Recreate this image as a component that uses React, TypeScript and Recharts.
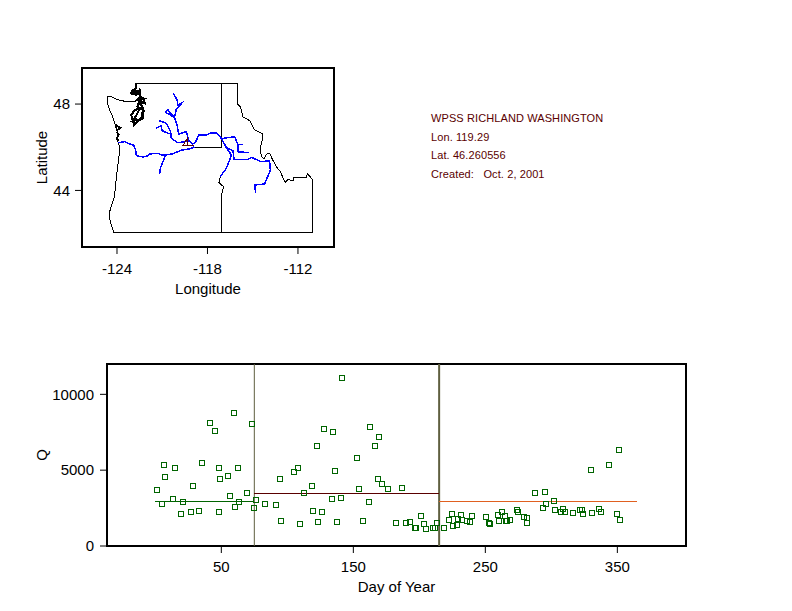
import React from 'react';
import { ScatterChart, Scatter, XAxis, YAxis, ReferenceArea, ReferenceLine } from 'recharts';

type Pair = [number, number];

// map outlines, [lon, lat]
const stateOutline: Pair[] = [
  [-122.72, 48.96], [-116.02, 48.96], [-116.02, 48.0], [-115.82, 47.88], [-115.65, 47.41], [-115.2, 47.23],
  [-115.05, 47.03], [-114.87, 46.8], [-114.65, 46.72], [-114.32, 46.61], [-114.39, 46.26], [-114.5, 45.95],
  [-114.43, 45.56], [-114.25, 45.48], [-114.1, 45.67], [-113.88, 45.72], [-113.72, 45.48], [-113.44, 45.1],
  [-113.15, 44.87], [-112.99, 44.56], [-112.82, 44.37], [-112.66, 44.51], [-112.33, 44.45], [-112.26, 44.61],
  [-111.45, 44.59], [-111.38, 44.77], [-111.2, 44.64], [-111.01, 44.48], [-111.01, 42.06], [-124.2, 42.06],
  [-124.42, 42.48], [-124.53, 42.91], [-124.42, 43.17], [-124.2, 43.63], [-124.11, 44.1], [-124.04, 44.64],
  [-123.93, 45.25], [-123.82, 45.87], [-123.88, 46.18], [-124.0, 46.33], [-123.98, 46.72], [-124.15, 47.11],
  [-124.33, 47.49], [-124.49, 47.72], [-124.66, 48.11], [-124.64, 48.34], [-124.38, 48.34], [-124.04, 48.22],
  [-123.71, 48.15], [-123.05, 48.11], [-122.72, 48.11],
];
const waIdBorder: Pair[] = [[-117.04, 48.96], [-117.04, 45.99]];
const waOrBorder: Pair[] = [[-118.96, 45.99], [-117.04, 45.99]];
const orIdBorder: Pair[] = [[-117.15, 44.64], [-117.24, 44.36], [-116.93, 44.17], [-117.04, 43.86], [-117.04, 42.06]];
const pugetSound: Pair[] = [
  [-122.72, 48.96], [-122.72, 48.73], [-123.01, 48.62], [-123.05, 48.49], [-122.72, 48.42], [-122.5, 48.65],
  [-122.43, 48.34], [-122.65, 48.19], [-122.28, 48.26], [-122.17, 48.03], [-122.56, 48.06], [-122.65, 47.88],
  [-122.28, 47.72], [-122.39, 47.34], [-122.72, 47.23], [-123.01, 47.29], [-123.05, 47.49], [-122.83, 47.72],
  [-122.5, 47.8], [-122.65, 47.57], [-122.83, 47.34], [-122.87, 47.03], [-122.72, 47.11], [-122.56, 47.23],
  [-122.28, 47.34], [-122.23, 47.72], [-122.39, 47.95],
];
const sanJuans: Pair[] = [[-123.0, 48.62], [-122.6, 48.6], [-122.95, 48.5], [-122.55, 48.45]];
const whidbey: Pair[] = [[-122.6, 48.3], [-122.2, 48.25], [-122.55, 48.15], [-122.2, 48.05], [-122.6, 47.98]];
const southSound: Pair[] = [[-123.02, 47.35], [-122.75, 47.3], [-122.98, 47.2], [-122.75, 47.12], [-122.9, 47.05]];
const willapa: Pair[] = [[-124.02, 46.72], [-123.89, 46.57], [-124.02, 46.41], [-123.89, 46.29]];
const graysHarbor: Pair[] = [[-124.11, 47.03], [-123.76, 46.9], [-124.04, 46.77]];

const lowerColumbia: Pair[] = [
  [-123.93, 46.21], [-123.49, 46.26], [-123.16, 46.15], [-122.9, 46.1], [-122.76, 45.87], [-122.72, 45.61],
  [-122.28, 45.55], [-121.99, 45.59], [-121.83, 45.69], [-121.28, 45.72], [-121.02, 45.64], [-120.8, 45.64],
  [-120.29, 45.7], [-119.73, 45.86], [-119.18, 45.93], [-118.89, 45.99], [-119.03, 46.18], [-119.18, 46.26],
];
const upperRiver: Pair[] = [
  [-119.03, 46.18], [-118.85, 46.18], [-118.72, 46.33], [-118.59, 46.56], [-118.08, 46.56], [-117.75, 46.67],
  [-117.41, 46.67], [-117.08, 46.41], [-116.97, 46.41], [-116.2, 46.49], [-115.98, 46.13], [-115.98, 45.79],
  [-115.27, 45.75],
];
const upperBranch: Pair[] = [[-115.98, 46.13], [-115.65, 46.13]];
const snake: Pair[] = [
  [-117.08, 46.41], [-116.75, 45.99], [-116.64, 45.95], [-116.31, 45.84], [-116.24, 45.44], [-115.31, 45.44],
  [-115.09, 45.53], [-114.43, 45.33], [-113.88, 45.38], [-113.83, 44.94], [-114.21, 44.3], [-114.87, 44.25],
  [-114.81, 43.9],
];
const hellsCanyon: Pair[] = [[-116.75, 45.99], [-116.42, 45.64], [-116.53, 45.41], [-116.75, 45.02], [-117.15, 44.64]];
const deschutes: Pair[] = [[-120.8, 45.64], [-120.95, 45.33], [-121.13, 45.02], [-121.17, 44.74]];
const yakimaA: Pair[] = [
  [-120.27, 48.52], [-120.02, 48.19], [-119.96, 47.95], [-119.69, 48.06], [-119.78, 47.95], [-120.07, 47.75],
  [-120.18, 47.41], [-120.51, 47.6], [-120.62, 47.75], [-120.77, 47.61], [-120.18, 47.38], [-120.02, 47.03],
  [-119.91, 46.61], [-119.4, 46.72], [-119.25, 46.33], [-119.18, 46.26],
];
const yakimaB: Pair[] = [
  [-121.22, 47.23], [-120.73, 47.11], [-120.44, 46.72], [-120.4, 46.41], [-119.96, 46.21], [-119.47, 46.26],
  [-119.18, 46.26],
];
const yakimaC: Pair[] = [[-121.44, 46.87], [-121.06, 47.0], [-121.02, 46.77], [-120.51, 46.61]];
const siteMarker: Pair[] = [[-118.92, 46.09], [-119.62, 46.09], [-119.34, 46.41], [-119.34, 46.09]];

const borders = [stateOutline, waIdBorder, waOrBorder, orIdBorder];
const estuaries = [pugetSound, sanJuans, whidbey, southSound, willapa, graysHarbor];
const rivers = [lowerColumbia, upperRiver, upperBranch, snake, hellsCanyon, deschutes, yakimaA, yakimaB, yakimaC];

const lonTicks = [-124, -118, -112];
const latTicks = [44, 48];
const dayTicks = [50, 150, 250, 350];
const qTicks = [0, 5000, 10000];

// [day of year, Q]
const flows: Pair[] = [
  [1.5, 3690], [5.3, 2788], [6.6, 5338], [7.6, 4525], [13.4, 3097], [14.7, 5120], [19.5, 2109], [20.8, 2919],
  [21, 2880], [27.3, 2240], [28.6, 3954], [33.3, 2287], [35.6, 5490], [41.4, 8106], [45.5, 7560], [48.5, 5120],
  [48.5, 2240], [49.3, 4395], [55.3, 4613], [56.6, 3295], [59.6, 8765], [60.6, 2550], [62.6, 5120], [63.6, 2900],
  [69.5, 3473], [73.5, 8020], [74.8, 2504], [76.5, 3031], [83.3, 2748], [91.7, 2682], [94.7, 4415], [95.5, 1648],
  [105.3, 4857], [108.3, 5140], [109.6, 1450], [112.7, 3473], [118.5, 3934], [119.7, 2306], [122.7, 6590],
  [123.5, 1582], [126.5, 2220], [127.8, 7690], [133.9, 3097], [134.8, 7493], [136.4, 4942], [137.9, 1582],
  [140.7, 3163], [141.7, 11051], [152.6, 5780], [154.5, 3736], [157.6, 1628], [161.9, 2900], [162.9, 7822],
  [166.7, 6570], [169, 4395], [169.7, 7163], [171.7, 4086], [176.5, 3776], [182.6, 1516], [186.9, 3802],
  [189.7, 1496], [193, 1582], [197, 1206], [197.7, 1166], [201.5, 1957], [203.8, 1430], [205, 1120], [210.6, 1206],
  [211.9, 1166], [213.6, 1535], [218.7, 1186], [222.7, 1713], [225, 2109], [225.8, 1318], [228.3, 1384], [229, 1760],
  [231.8, 2063], [232.6, 1713], [235.9, 1648], [238.6, 1562], [240, 1957], [250.8, 1891], [253, 1496], [253.8, 1450],
  [259.8, 2023], [260.6, 1648], [262.9, 2220], [264.9, 1957], [265.9, 1648], [266.7, 1648], [268.5, 1694],
  [273.8, 2353], [275, 2220], [279.5, 1891], [281.4, 1865], [281.8, 1516], [287.9, 3473], [293.9, 2504], [295.2, 3539],
  [296, 2768], [302, 2966], [303, 2353], [307.6, 2240], [309, 2438], [310.1, 2240], [316.7, 2155], [322, 2372],
  [323.5, 2372], [324, 2089], [330.1, 5008], [331, 2155], [336.1, 2458], [337.9, 2220], [344, 5318], [350, 2109],
  [351.3, 6307], [352, 1713],
];
const medianWinter: Pair[] = [[0, 2946], [75, 2946]];
const medianSummer: Pair[] = [[75, 3473], [215, 3473]];
const medianFall: Pair[] = [[215, 2946], [365, 2946]];

const infoLines = ['WPSS RICHLAND WASHINGTON', 'Lon. 119.29', 'Lat. 46.260556', 'Created:   Oct. 2, 2001'];

const FONT = '"Liberation Sans", Arial, sans-serif';
const axisText = { fontSize: 15, fontFamily: FONT, fill: '#000' };
const titleText = { ...axisText, textAnchor: 'middle' as const };
const tickLine = { stroke: '#000', strokeWidth: 1 };

const toMap = (line: Pair[]) => line.map(([lon, lat]) => ({ lon, lat }));
const toFlow = (line: Pair[]) => line.map(([day, q]) => ({ day, q }));
const NoDot = () => <g />;

const Square = ({ cx, cy }: any) => (
  <rect
    x={Math.round(cx) - 2.5}
    y={Math.round(cy) - 2.5}
    width={5}
    height={5}
    fill="none"
    stroke="#006400"
    strokeWidth={1}
    shapeRendering="crispEdges"
  />
);

function lineSeries(data: object[], key: string, color: string, width: number) {
  return (
    <Scatter
      key={key}
      data={data}
      line={{ stroke: color, strokeWidth: width, shapeRendering: 'crispEdges' }}
      lineType="joint"
      shape={NoDot}
      isAnimationActive={false}
    />
  );
}

export default function App() {
  return (
    <div style={{ position: 'absolute', left: 0, top: 0, width: 792, height: 611, background: '#fff', overflow: 'hidden' }}>
      <div style={{ position: 'absolute', left: 0, top: 0 }}>
        <ScatterChart width={792} height={300} margin={{ left: 42, right: 458, top: 68, bottom: 8 }}>
          <XAxis
            type="number"
            dataKey="lon"
            domain={[-126.32, -109.61]}
            ticks={lonTicks}
            allowDataOverflow
            height={45}
            tickSize={7}
            tickMargin={9}
            axisLine={false}
            tickLine={tickLine}
            tick={axisText}
            label={{ value: 'Longitude', position: 'insideBottom', offset: -2, style: axisText }}
          />
          <YAxis
            type="number"
            dataKey="lat"
            domain={[41.38, 49.67]}
            ticks={latTicks}
            allowDataOverflow
            width={40}
            tickSize={7}
            tickMargin={5}
            axisLine={false}
            tickLine={tickLine}
            tick={axisText}
            label={{ value: 'Latitude', angle: -90, position: 'insideLeft', offset: 0, style: titleText }}
          />
          <ReferenceArea x1={-126.32} x2={-109.61} y1={41.38} y2={49.67} fill="none" stroke="#000" strokeWidth={2} />
          {borders.map((line, i) => lineSeries(toMap(line), `border-${i}`, '#000', 1))}
          {estuaries.map((line, i) => lineSeries(toMap(line), `estuary-${i}`, '#000', 2))}
          {rivers.map((line, i) => lineSeries(toMap(line), `river-${i}`, '#0000ff', 1.5))}
          {lineSeries(toMap(siteMarker), 'site', '#5a0000', 1)}
        </ScatterChart>
      </div>

      <div style={{ position: 'absolute', left: 431, top: 109, fontFamily: FONT, fontSize: 11, color: '#5a0000', letterSpacing: 0.1 }}>
        {infoLines.map(t => (
          <div key={t} style={{ height: 18.5, lineHeight: '18.5px', whiteSpace: 'pre' }}>{t}</div>
        ))}
      </div>

      <div style={{ position: 'absolute', left: 0, top: 300 }}>
        <ScatterChart width={792} height={311} margin={{ left: 47, right: 106, top: 64, bottom: 19 }}>
          <XAxis
            type="number"
            dataKey="day"
            domain={[-36.6, 402]}
            ticks={dayTicks}
            allowDataOverflow
            height={46}
            tickSize={7}
            tickMargin={8}
            axisLine={false}
            tickLine={tickLine}
            tick={axisText}
            label={{ value: 'Day of Year', position: 'insideBottom', offset: 0, style: axisText }}
          />
          <YAxis
            type="number"
            dataKey="q"
            domain={[0, 12000]}
            ticks={qTicks}
            allowDataOverflow
            width={60}
            tickSize={7}
            tickMargin={6}
            axisLine={false}
            tickLine={tickLine}
            tick={axisText}
            label={{ value: 'Q', angle: -90, position: 'insideLeft', offset: -5, style: titleText }}
          />
          <ReferenceArea x1={-36.6} x2={402} y1={0} y2={12000} fill="none" stroke="#000" strokeWidth={2} />
          <ReferenceLine x={75} stroke="#5f5f3f" strokeWidth={1} />
          <ReferenceLine x={215} stroke="#5f5f3f" strokeWidth={2} />
          {lineSeries(toFlow(medianWinter), 'winter', '#006400', 1)}
          {lineSeries(toFlow(medianSummer), 'summer', '#5a0000', 1)}
          {lineSeries(toFlow(medianFall), 'fall', '#e06020', 1)}
          <Scatter data={toFlow(flows)} shape={Square} isAnimationActive={false} />
        </ScatterChart>
      </div>
    </div>
  );
}
